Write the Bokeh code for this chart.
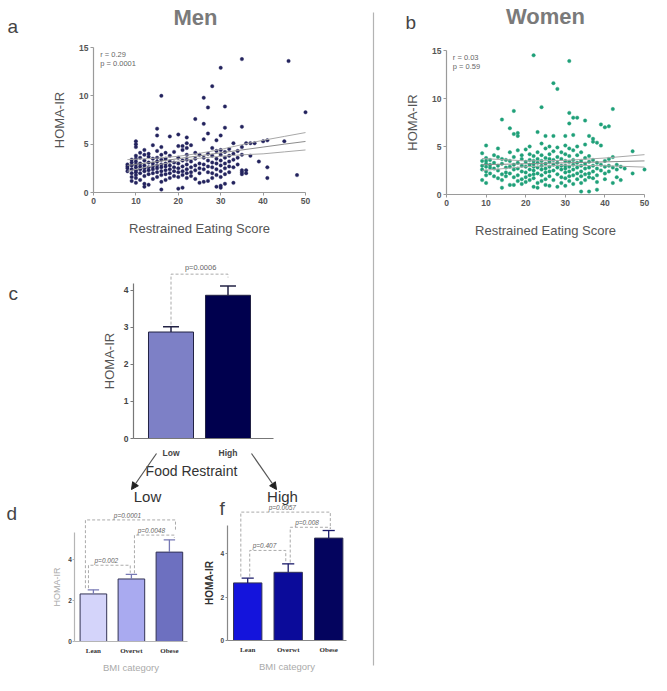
from bokeh.plotting import figure
from bokeh.models import Range1d, LinearAxis, FixedTicker, Arrow, NormalHead
from bokeh.embed import file_html
from bokeh.resources import INLINE
from bokeh.core.properties import value

# ---------------- data ----------------
men_scores = [8, 9, 10, 11, 12, 13, 14, 15, 16, 17, 18, 19, 20, 21, 22, 23, 24, 25,
              26, 27, 28, 29, 30, 31, 32, 33, 34, 35, 36, 37, 38, 39, 40, 41, 45, 46, 48, 50]
men_homa = [
    [2.9, 2.5, 2.2, 2.7],
    [3.1, 2.4, 2.0, 1.6, 2.8, 3.4, 1.2],
    [5.3, 5.0, 4.7, 3.8, 3.5, 3.2, 2.9, 2.6, 2.3, 2.1, 1.8, 1.5, 1.0],
    [4.1, 3.6, 3.0, 2.7, 2.4, 2.0, 1.3],
    [4.4, 3.9, 3.3, 2.8, 2.5, 2.2, 1.7, 0.9, 0.6],
    [4.0, 3.7, 3.1, 2.6, 2.3, 1.9, 0.8],
    [4.9, 3.5, 3.0, 2.7, 2.4, 2.0, 1.4],
    [6.6, 5.9, 4.3, 3.6, 3.2, 2.8, 2.5, 2.1, 1.6],
    [10.0, 4.7, 3.9, 3.4, 2.9, 2.6, 2.2, 1.8, 1.1, 0.3],
    [4.1, 3.5, 3.0, 2.7, 2.3, 1.9, 1.3],
    [5.8, 3.8, 3.2, 2.8, 2.4, 2.0, 1.5],
    [4.2, 3.1, 2.6, 2.2, 1.7],
    [6.0, 4.8, 3.6, 3.0, 2.5, 2.1, 1.6, 0.4],
    [4.8, 4.4, 3.3, 2.7, 2.2, 1.8, 0.5],
    [5.7, 5.1, 4.6, 3.9, 3.4, 2.9, 2.4, 2.0, 1.5],
    [4.9, 3.2, 2.6, 2.1, 1.7],
    [7.6, 4.1, 3.5, 2.8, 2.3, 1.4],
    [3.9, 3.0, 2.5, 2.0, 1.0],
    [9.8, 7.1, 5.5, 3.6, 2.9, 2.4, 1.1],
    [8.8, 6.1, 4.0, 3.3, 2.7, 2.1, 1.2],
    [11.0, 4.6, 3.8, 3.1, 2.6, 2.0, 1.5],
    [5.4, 4.3, 3.5, 3.0, 2.4, 1.8, 0.6],
    [12.9, 5.9, 4.4, 3.9, 3.3, 2.8, 2.2, 1.6, 0.7, 0.5],
    [8.9, 6.7, 4.2, 3.6, 3.0, 2.5, 1.9, 0.9],
    [4.5, 3.8, 3.2, 2.7, 2.1],
    [5.1, 4.0, 3.4, 2.6, 1.0],
    [4.3, 3.6, 2.9],
    [13.8, 6.8, 4.7, 3.9, 2.3, 2.1, 1.9],
    [5.1, 2.3, 2.0],
    [5.1, 3.8],
    [5.1],
    [3.2],
    [5.3],
    [5.4, 2.6, 1.5],
    [5.3],
    [13.6],
    [1.8],
    [8.3],
]

women_scores = [9, 10, 11, 12, 13, 14, 15, 16, 17, 18, 19, 20, 21, 22, 23, 24, 25, 26, 27,
                28, 29, 30, 31, 32, 33, 34, 35, 36, 37, 38, 39, 40, 41, 42, 43, 44, 45, 47, 50]
women_homa = [
    [4.3, 3.5, 3.0, 2.6, 1.5],
    [5.1, 3.8, 3.5, 3.2, 2.9, 2.4, 2.0, 1.2],
    [3.6, 3.1, 2.8, 2.2],
    [4.1, 3.3, 2.7, 1.9],
    [4.8, 3.9, 3.0, 2.5, 1.7],
    [7.8, 3.7, 3.2, 2.1, 1.5, 0.7],
    [3.6, 2.8, 2.3, 1.9],
    [6.9, 4.4, 3.5, 2.9, 2.2, 1.0],
    [8.7, 6.3, 3.9, 3.1, 2.6, 1.8, 1.0],
    [6.4, 6.1, 4.6, 3.3, 2.7, 2.0, 1.4],
    [4.1, 3.7, 3.0, 2.4, 1.6, 1.1],
    [4.7, 3.4, 2.9, 2.3, 1.8, 1.3],
    [5.0, 4.2, 3.6, 3.1, 2.6, 2.0, 1.5],
    [14.5, 4.0, 3.5, 3.2, 2.9, 2.5, 2.1, 1.7, 0.8],
    [6.5, 4.4, 3.7, 3.3, 2.8, 2.2, 1.2, 0.7],
    [9.1, 5.3, 4.1, 3.5, 3.0, 2.6, 2.0, 1.4],
    [6.1, 4.8, 3.8, 3.2, 2.7, 2.3, 1.6, 1.0],
    [5.0, 4.2, 3.7, 3.4, 2.9, 2.4, 1.9, 0.9],
    [11.6, 6.1, 4.5, 3.6, 3.1, 2.5, 1.5],
    [11.0, 4.9, 3.9, 3.3, 2.8, 2.1, 0.8],
    [4.4, 3.7, 3.0, 2.6, 1.8, 1.2],
    [6.1, 5.1, 4.2, 3.5, 3.0, 2.7, 2.3, 1.7, 0.9],
    [13.9, 8.5, 7.4, 4.8, 4.0, 3.4, 2.9, 2.4, 1.9, 1.4],
    [8.0, 6.2, 4.6, 3.6, 3.1, 2.6, 2.0, 1.1],
    [8.0, 5.0, 4.1, 3.3, 2.8, 2.2, 1.6],
    [4.4, 3.5, 3.0, 2.4, 1.9, 1.2, 0.3],
    [7.7, 5.2, 3.8, 3.2, 2.7, 2.1, 1.5],
    [6.1, 4.0, 3.4, 2.8, 2.2, 1.8, 0.3],
    [5.8, 5.5, 3.6, 3.0, 2.4, 1.7],
    [5.4, 3.3, 2.7, 2.0, 1.3, 0.5],
    [7.3, 5.1, 3.1, 2.5],
    [7.0, 3.5, 2.9, 2.2, 1.6],
    [7.1, 3.7, 3.0, 2.4],
    [8.9, 3.9, 2.8, 1.2],
    [3.1, 2.6, 1.8],
    [2.9, 1.5],
    [2.7],
    [4.5, 2.2],
    [2.6],
]

# regression lines with 95% confidence bands
men_fit_x = [8, 15, 20, 25, 30, 35, 40, 45, 50]
men_fit_y = [2.8, 3.2, 3.5, 3.8, 4.1, 4.4, 4.7, 5.0, 5.28]
men_ci_hi = [3.4, 3.55, 3.75, 4.05, 4.45, 4.95, 5.4, 5.8, 6.2]
men_ci_lo = [2.2, 2.85, 3.25, 3.55, 3.75, 3.9, 4.0, 4.2, 4.4]
men_stats = ["r = 0.29", "p = 0.0001"]

women_fit_x = [9, 20, 30, 40, 50]
women_fit_y = [3.1, 3.2, 3.3, 3.4, 3.5]
women_ci_hi = [3.75, 3.5, 3.55, 3.8, 4.15]
women_ci_lo = [2.5, 2.9, 3.05, 3.0, 2.85]
women_stats = ["r = 0.03", "p = 0.59"]

restraint_cats = ["Low", "High"]
restraint_mean = [2.87, 3.86]
restraint_sem = [0.14, 0.25]
restraint_p = ["p=0.0006"]

bmi_cats = ["Lean", "Overwt", "Obese"]
low_mean = [2.32, 3.05, 4.36]
low_sem = [0.20, 0.22, 0.60]
low_p = ["p=0.0001", "p=0.0048", "p=0.002"]
high_mean = [2.66, 3.15, 4.73]
high_sem = [0.22, 0.39, 0.35]
high_p = ["p=0.0057", "p=0.008", "p=0.407"]

# ---------------- page canvas ----------------
FONT = "Liberation Sans"
W, H = 651, 675

p = figure(width=W, height=H, x_range=Range1d(0, W), y_range=Range1d(H, 0),
           output_backend="svg", toolbar_location=None,
           x_axis_location=None, y_axis_location=None, min_border=0)
p.title.visible = False
p.outline_line_color = None
p.grid.visible = False
p.background_fill_color = "white"
p.border_fill_color = "white"


def x_map(v0, px0, v1, px1):
    """range whose scale puts value v0 at pixel px0 and v1 at px1"""
    k = (px1 - px0) / (v1 - v0)
    s = v0 - px0 / k
    return Range1d(s, s + W / k)


def y_map(v0, py0, v1, py1):
    u0, u1 = H - py0, H - py1
    k = (u1 - u0) / (v1 - v0)
    s = v0 - u0 / k
    return Range1d(s, s + H / k)


p.extra_x_ranges = {
    "ax": x_map(0, 93, 50, 305),
    "bx": x_map(0, 446, 50, 644),
    "cx": x_map(1, 170.5, 2, 227.5),
    "dx": x_map(1, 92.9, 3, 168.9),
    "fx": x_map(1, 247.2, 3, 328.2),
}
p.extra_y_ranges = {
    "ay": y_map(0, 192, 15, 47),
    "by": y_map(0, 194, 15, 50),
    "cy": y_map(0, 438, 4, 289.6),
    "dy": y_map(0, 641, 4, 559),
    "fy": y_map(0, 640, 4, 553.4),
}


def add_axis(side, name, loc, ticks, bounds, label, axis_color, tick_size, label_size,
             label_color, tick_color="#555555", label_style="normal",
             tick_out=3, label_standoff=2, axis_label_standoff=8, overrides=None):
    ax = LinearAxis(x_range_name=name + "x", y_range_name=name + "y", fixed_location=loc,
                    ticker=FixedTicker(ticks=ticks), bounds=bounds, axis_label=label)
    ax.axis_line_color = axis_color
    ax.axis_line_width = 1.2
    ax.major_tick_line_color = axis_color
    ax.minor_tick_line_color = None
    ax.major_tick_in = 0
    ax.major_tick_out = tick_out
    ax.major_label_standoff = label_standoff
    ax.major_label_text_font = FONT
    ax.major_label_text_font_size = tick_size
    ax.major_label_text_font_style = "bold"
    ax.major_label_text_color = tick_color
    ax.axis_label_text_font = FONT
    ax.axis_label_text_font_size = label_size
    ax.axis_label_text_font_style = label_style
    ax.axis_label_text_color = label_color
    ax.axis_label_standoff = axis_label_standoff
    if overrides:
        ax.major_label_overrides = overrides
    p.add_layout(ax, side)
    return ax


def flatten(scores, values):
    xs, ys = [], []
    for s, col in zip(scores, values):
        for v in col:
            xs.append(s)
            ys.append(v)
    return xs, ys


def free_text(x, y, text, size, color="#444444", style="normal", align="left"):
    p.text(x=[x], y=[y], text=[text], text_font=value(FONT), text_font_size=f"{size}px",
           text_color=color, text_font_style=style, text_align=align, text_baseline="middle")


# ---------------- scatter panels a / b ----------------
def scatter_panel(name, scores, homa, fit_x, fit_y, ci_hi, ci_lo, stats, color):
    rn = dict(x_range_name=name + "x", y_range_name=name + "y")
    xs, ys = flatten(scores, homa)
    p.scatter(xs, ys, size=3.5, marker="circle", fill_color=color, line_color=color,
              line_width=0.4, **rn)
    p.line(fit_x, fit_y, line_color="#8c8c8c", line_width=1, **rn)
    p.line(fit_x, ci_hi, line_color="#a8a8a8", line_width=1, **rn)
    p.line(fit_x, ci_lo, line_color="#a8a8a8", line_width=1, **rn)
    p.text(x=[1.6, 1.6], y=[14.3, 13.3], text=stats, text_font=value(FONT),
           text_font_size="7.5px", text_color="#666666", text_baseline="middle", **rn)
    add_axis("below", name, 0, [0, 10, 20, 30, 40, 50], (0, 50), "Restrained Eating Score",
             "#9a9a9a", "8.5px", "13px", "#555555", label_standoff=2, axis_label_standoff=14)
    add_axis("left", name, 0, [0, 5, 10, 15], (0, 15), "HOMA-IR",
             "#9a9a9a", "8.5px", "13px", "#555555", label_standoff=2, axis_label_standoff=9)


scatter_panel("a", men_scores, men_homa, men_fit_x, men_fit_y, men_ci_hi, men_ci_lo,
              men_stats, "#23235e")
scatter_panel("b", women_scores, women_homa, women_fit_x, women_fit_y, women_ci_hi,
              women_ci_lo, women_stats, "#1fa078")

# ---------------- panel c ----------------
rc = dict(x_range_name="cx", y_range_name="cy")
xc = [i + 1 for i in range(len(restraint_cats))]
c_bounds = (0.342, 2.80)
p.vbar(x=xc, top=restraint_mean, width=0.79, bottom=0,
       fill_color=["#7d80c6", "#00004e"], line_color="#222244", line_width=1, **rc)
tops_c = [m + e for m, e in zip(restraint_mean, restraint_sem)]
p.segment(x0=xc, y0=restraint_mean, x1=xc, y1=tops_c, line_color="#222244", line_width=1.5, **rc)
p.segment(x0=[x - 0.14 for x in xc], y0=tops_c, x1=[x + 0.14 for x in xc], y1=tops_c,
          line_color="#222244", line_width=1.5, **rc)
add_axis("below", "c", 0, xc, c_bounds, "", "#777777", "8.5px", "13px", "#555555",
         tick_color="#444444", tick_out=0, label_standoff=9,
         overrides={x: c for x, c in zip(xc, restraint_cats)})
add_axis("left", "c", c_bounds[0], [0, 1, 2, 3, 4], (0, 4.17), "HOMA-IR", "#777777",
         "8.5px", "13px", "#555555", tick_color="#444444", label_standoff=2,
         axis_label_standoff=4)
lvl_c = 4.43
p.multi_line(xs=[[xc[0], xc[0], xc[1], xc[1]]],
             ys=[[tops_c[0] + 0.06, lvl_c, lvl_c, lvl_c - 0.09]],
             line_color="#aaaaaa", line_dash="3 2", line_width=1, **rc)
p.text(x=[(xc[0] + xc[1]) / 2 + 0.02], y=[lvl_c + 0.07], text=restraint_p,
       text_font=value(FONT), text_font_size="7.5px", text_color="#666666",
       text_align="center", text_baseline="bottom", **rc)


# ---------------- panels d / f ----------------
def bmi_panel(name, means, sems, colors, pvals, brackets, xbounds, axis_color, err_color,
              ylab_color, ylab_style, ylab_size):
    rn = dict(x_range_name=name + "x", y_range_name=name + "y")
    xb = [i + 1 for i in range(len(bmi_cats))]
    p.vbar(x=xb, top=means, width=0.70, bottom=0, fill_color=colors,
           line_color="#333355", line_width=1, **rn)
    tops = [m + e for m, e in zip(means, sems)]
    p.segment(x0=xb, y0=means, x1=xb, y1=tops, line_color=err_color, line_width=1.3, **rn)
    p.segment(x0=[x - 0.15 for x in xb], y0=tops, x1=[x + 0.15 for x in xb], y1=tops,
              line_color=err_color, line_width=1.3, **rn)
    ax = add_axis("below", name, 0, xb, xbounds, "BMI category", axis_color, "7px", "9.5px",
                  "#aaaaaa", tick_color="#333333", tick_out=0, label_standoff=5,
                  axis_label_standoff=4, overrides={x: c for x, c in zip(xb, bmi_cats)})
    ax.major_label_text_font = "Liberation Serif"
    add_axis("left", name, xbounds[0], [0, 2, 4], (0, 5.3), "HOMA-IR", axis_color, "6.5px",
             ylab_size, ylab_color, tick_color="#444444", label_style=ylab_style,
             tick_out=2, label_standoff=1, axis_label_standoff=3)
    bx, by, tx, ty = [], [], [], []
    for (i, j, lvl, dl, dr, rl, rr) in brackets:
        x0, x1 = xb[i] + dl, xb[j] + dr
        bx.append([x0, x0, x1, x1])
        by.append([tops[i] + rl, lvl, lvl, tops[j] + rr])
        tx.append((x0 + x1) / 2 - 0.08)
        ty.append(lvl + 0.07)
    p.multi_line(xs=bx, ys=by, line_color="#aaaaaa", line_dash="3 2", line_width=1, **rn)
    p.text(x=tx, y=ty, text=pvals, text_font=value(FONT), text_font_size="6.5px",
           text_font_style="italic", text_color="#666666", text_align="center",
           text_baseline="bottom", **rn)


bmi_panel("d", low_mean, low_sem, ["#d4d4fa", "#a9aaf0", "#6d70c0"], low_p,
          [(0, 2, 5.93, -0.21, 0.16, 0.08, 0.45),
           (1, 2, 5.19, 0.08, 0.13, 0.06, 0.1),
           (0, 1, 3.72, -0.13, -0.03, 0.08, 0.08)],
          (0.51, 3.47), "#b5b5b5", "#7779b5", "#aaaaaa", "normal", "9px")
bmi_panel("f", high_mean, high_sem, ["#1414dc", "#0b0b9a", "#04045e"], high_p,
          [(0, 2, 5.93, -0.17, 0.04, 0.07, 0.07),
           (1, 2, 5.23, 0.05, 0.04, 0.06, 0.07),
           (0, 1, 4.16, 0.05, -0.06, 0.07, 0.06)],
          (0.49, 3.45), "#888888", "#1a1a6a", "#333333", "bold", "10px")

# ---------------- titles, letters, arrows, divider ----------------
free_text(195, 17, "Men", 22, color="#7a7a7a", style="bold", align="center")
free_text(545, 16, "Women", 22, color="#7a7a7a", style="bold", align="center")
free_text(7, 26, "a", 19)
free_text(405, 22, "b", 19)
free_text(8, 293, "c", 19)
free_text(6, 513, "d", 19)
free_text(219, 508, "f", 19)
free_text(191, 470, "Food Restraint", 14, color="#333333", align="center")
free_text(147, 496, "Low", 15, color="#333333", align="center")
free_text(282, 496, "High", 15, color="#333333", align="center")
for xs0, ys0, xe, ye in [(156, 453, 131, 489), (251, 453, 276, 489)]:
    p.add_layout(Arrow(x_start=xs0, y_start=ys0, x_end=xe, y_end=ye,
                       end=NormalHead(size=7, fill_color="#222222", line_color="#222222"),
                       line_color="#555555", line_width=1.2))
p.segment(x0=[373], y0=[12], x1=[373], y1=[665], line_color="#b3b3b3", line_width=1.2)

open("out.html", "w").write(file_html(p, INLINE))
